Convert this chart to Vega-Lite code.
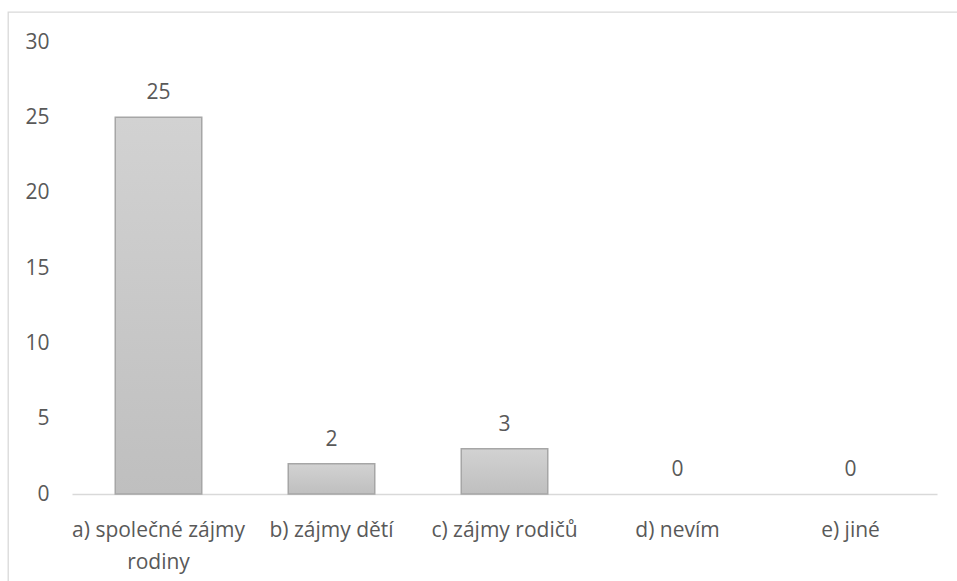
{
  "$schema": "https://vega.github.io/schema/vega-lite/v6.json",
  "width": 952,
  "height": 572,
  "autosize": "none",
  "padding": {"left": 8, "top": 12, "right": -3, "bottom": -3},
  "background": "white",
  "config": {
    "view": {"stroke": "#d9d9d9", "strokeWidth": 1.3},
    "font": "Open Sans",
    "axis": {"labelFont": "Open Sans", "labelColor": "#595959", "labelFontSize": 21, "grid": false, "ticks": false, "title": null}
  },
  "data": {"values": [
    {"cat": "a) společné zájmy rodiny", "value": 25},
    {"cat": "b) zájmy dětí", "value": 2},
    {"cat": "c) zájmy rodičů", "value": 3},
    {"cat": "d) nevím", "value": 0},
    {"cat": "e) jiné", "value": 0}
  ]},
  "encoding": {
    "x": {"field": "cat", "type": "nominal", "sort": null,
      "scale": {"paddingInner": 0.5, "paddingOuter": 0.25, "range": [64, 929]},
      "axis": {"labelAngle": 0, "offset": -90, "domainColor": "#d9d9d9", "domainWidth": 1.3, "labelPadding": 25, "labelLineHeight": 32,
        "labelExpr": "datum.label == 'a) společné zájmy rodiny' ? ['a) společné zájmy', 'rodiny'] : datum.label"}},
    "y": {"field": "value", "type": "quantitative",
      "scale": {"domain": [0, 30], "range": [482, 30]},
      "axis": {"values": [0, 5, 10, 15, 20, 25, 30], "domain": false, "offset": -41, "labelPadding": 0}}
  },
  "layer": [
    {"transform": [{"filter": "datum.value > 0"}],
     "mark": {"type": "bar", "stroke": "#a6a6a6", "strokeWidth": 1.5,
      "color": {"gradient": "linear", "x1": 0, "y1": 0, "x2": 0, "y2": 1,
        "stops": [{"offset": 0, "color": "#d2d2d2"}, {"offset": 1, "color": "#bfbfbf"}]}}},
    {"mark": {"type": "text", "baseline": "middle", "dy": -24, "fontSize": 21, "color": "#595959", "font": "Open Sans"},
     "encoding": {"text": {"field": "value", "type": "quantitative"}}}
  ]
}
